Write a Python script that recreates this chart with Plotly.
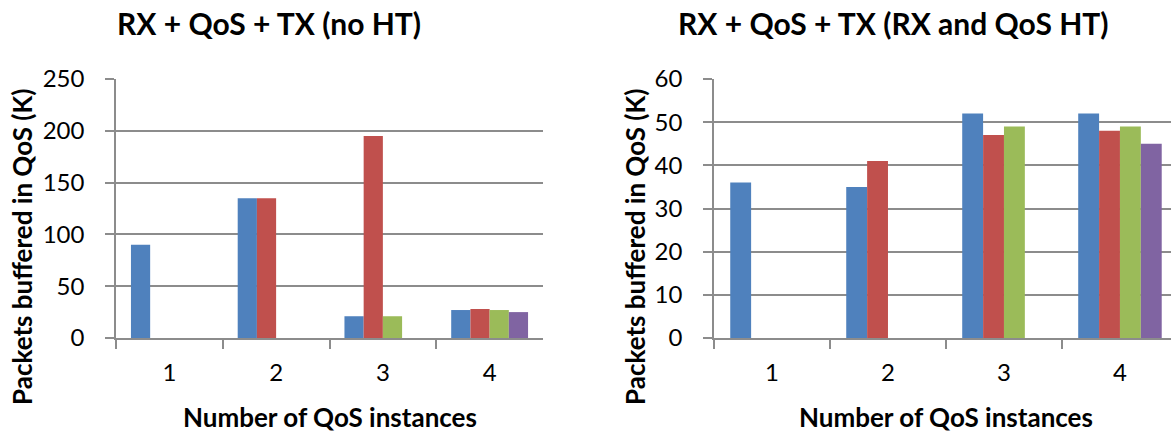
import plotly.graph_objects as go

categories = ["1", "2", "3", "4"]

# Left chart: RX + QoS + TX (no HT)
left_s1 = [90, 135, 21, 27]
left_s2 = [None, 135, 195, 28]
left_s3 = [None, None, 21, 27]
left_s4 = [None, None, None, 25]

# Right chart: RX + QoS + TX (RX and QoS HT)
right_s1 = [36, 35, 52, 52]
right_s2 = [None, 41, 47, 48]
right_s3 = [None, None, 49, 49]
right_s4 = [None, None, None, 45]

titles = ["RX + QoS + TX (no HT)", "RX + QoS + TX (RX and QoS HT)"]
xtitle = "Number of QoS instances"
ytitle = "Packets buffered in QoS (K)"

colors = ["#4F81BD", "#C0504D", "#9BBB59", "#8064A2"]
FONT = "Lato"
W, H = 1171, 433

fig = go.Figure()
for i, vals in enumerate([left_s1, left_s2, left_s3, left_s4]):
    fig.add_trace(go.Bar(x=categories, y=vals, marker_color=colors[i], marker_line_width=0,
                         xaxis="x", yaxis="y", showlegend=False))
for i, vals in enumerate([right_s1, right_s2, right_s3, right_s4]):
    fig.add_trace(go.Bar(x=categories, y=vals, marker_color=colors[i], marker_line_width=0,
                         xaxis="x2", yaxis="y2", showlegend=False))

grid = "#8C8C8C"
ydom = [1 - 338 / H, 1 - 79 / H]

xcommon = dict(type="category", showline=True, linecolor=grid, linewidth=1.5, automargin=False,
               ticks="outside", tickson="boundaries", ticklen=9, tickcolor=grid, tickwidth=1.5,
               ticklabelstandoff=12,
               showgrid=False, tickfont=dict(family=FONT, size=24, color="#000"))
ycommon = dict(showline=True, linecolor=grid, linewidth=1.5, showgrid=True, gridcolor=grid, gridwidth=1.5,
               automargin=False, ticklabelstandoff=16,
               ticks="outside", ticklen=9, tickcolor=grid, tickwidth=1.5, zeroline=False,
               tickfont=dict(family=FONT, size=24, color="#000"))


def px_x(v):
    return v / W


def px_y(v):
    return 1 - v / H


annots = []
for txt, cx in zip(titles, [269, 893]):
    annots.append(dict(text="<b>" + txt + "</b>", x=px_x(cx), y=px_y(23), xref="paper", yref="paper",
                       showarrow=False, xanchor="center", yanchor="middle",
                       font=dict(family=FONT, size=30, color="#000")))
for cx in [330, 946]:
    annots.append(dict(text="<b>" + xtitle + "</b>", x=px_x(cx), y=px_y(417), xref="paper", yref="paper",
                       showarrow=False, xanchor="center", yanchor="middle",
                       font=dict(family=FONT, size=26, color="#000")))
for cx in [22, 635]:
    annots.append(dict(text="<b>" + ytitle + "</b>", x=px_x(cx), y=px_y(247), xref="paper", yref="paper",
                       showarrow=False, xanchor="center", yanchor="middle", textangle=-90,
                       font=dict(family=FONT, size=26, color="#000")))

fig.update_layout(
    width=W, height=H, margin=dict(l=0, r=0, t=0, b=0, autoexpand=False),
    paper_bgcolor="white", plot_bgcolor="white",
    barmode="group", bargap=0.28, bargroupgap=0,
    xaxis=dict(domain=[116 / W, 543 / W], anchor="y", range=[-0.5, 3.5], **xcommon),
    yaxis=dict(domain=ydom, anchor="x", range=[0, 250], dtick=50, **ycommon),
    xaxis2=dict(domain=[714 / W, 1.0], anchor="y2", range=[-0.5, 3.44], **xcommon),
    yaxis2=dict(domain=ydom, anchor="x2", range=[0, 60], dtick=10, **ycommon),
    annotations=annots,
)

fig.write_html("out.html")
